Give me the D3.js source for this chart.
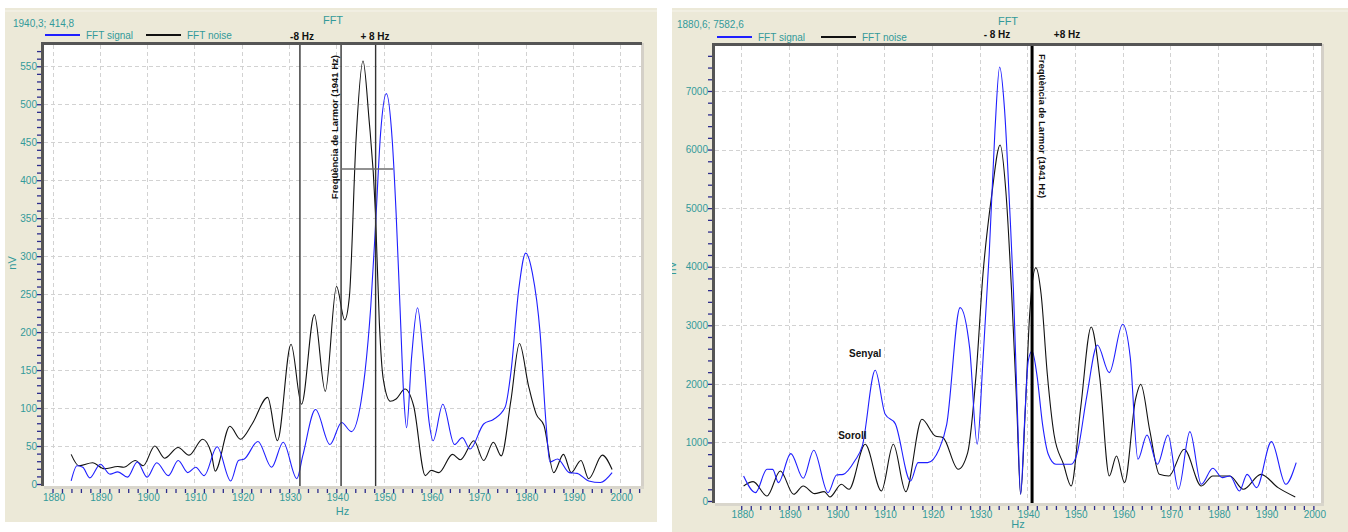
<!DOCTYPE html>
<html><head><meta charset="utf-8">
<script src="https://cdn.jsdelivr.net/npm/d3@7"></script>
<style>
body{margin:0;background:#fff;}
svg{display:block;}
text{font-family:"Liberation Sans",Arial,sans-serif;}
</style>
</head><body>
<svg id="c" width="1348" height="532"></svg>
<script>
// ---------------- DATA ----------------
const xTickLabels = [1880,1890,1900,1910,1920,1930,1940,1950,1960,1970,1980,1990,2000];
const leftYTickLabels = [0,50,100,150,200,250,300,350,400,450,500,550];
const rightYTickLabels = [0,1000,2000,3000,4000,5000,6000,7000];
const seriesNames = ["FFT signal","FFT noise"];
const leftCursorText = "1940,3; 414,8";
const rightCursorText = "1880,6; 7582,6";
const larmorText = "Freqüència de Larmor (1941 Hz)";
const leftMarkerHz = [1932.3, 1941, 1948.3];       // -8 Hz, Larmor, +8 Hz
const leftMarkerLabels = ["-8 Hz", "+ 8 Hz"];
const rightMarkerHz = [1941];
const rightMarkerLabels = ["- 8 Hz", "+8 Hz"];
const leftCursorHz = [1941, 1952];
const leftCursorValue = 414.8;

// left chart (nV)
const leftSignal = [[1883.94,4],[1885.17,24],[1886.40,22],[1887.88,8],[1890.11,26],[1892.16,13],[1893.81,16],[1895.86,9],[1897.92,29],[1899.98,9],[1902.04,28],[1904.50,11],[1906.56,31],[1908.62,15],[1910.26,22],[1912.07,11],[1914.79,49],[1917.67,4],[1919.31,31],[1920.54,33],[1923.43,56],[1926.31,22],[1928.77,55],[1931.65,7],[1932.89,37],[1935.60,98],[1938.65,52],[1941.11,81],[1943.17,69],[1945.23,109],[1946.05,147],[1947.28,234],[1948.27,339],[1949.34,461],[1950.57,514],[1951.81,453],[1952.63,357],[1953.45,234],[1954.28,112],[1954.85,74],[1955.92,168],[1957.16,232],[1958.39,168],[1959.62,81],[1960.45,57],[1962.50,105],[1964.97,52],[1966.62,61],[1968.26,46],[1971.14,79],[1973.20,85],[1975.67,101],[1976.90,147],[1978.55,256],[1980.03,304],[1981.43,278],[1983.07,199],[1984.31,81],[1985.13,29],[1986.77,33],[1989.24,15],[1990.89,14],[1993.35,4],[1995.82,2],[1998.29,15]];
const leftNoise = [[1883.94,39],[1885.58,24],[1888.46,28],[1890.93,20],[1893.81,23],[1895.04,22],[1897.51,31],[1899.16,24],[1901.62,50],[1903.68,34],[1906.56,48],[1908.86,38],[1911.74,59],[1913.55,41],[1914.38,17],[1917.50,76],[1919.72,59],[1922.19,79],[1925.48,114],[1927.54,57],[1930.42,184],[1932.64,105],[1935.35,223],[1937.66,122],[1940.04,260],[1941.77,216],[1942.76,247],[1944.16,453],[1945.64,557],[1946.87,483],[1948.27,357],[1949.09,212],[1949.92,138],[1951.40,109],[1952.63,112],[1954.52,125],[1956.33,103],[1958.80,11],[1960.04,18],[1961.68,15],[1964.56,39],[1966.21,32],[1969.09,57],[1971.14,31],[1973.20,55],[1974.85,37],[1976.90,110],[1978.71,185],[1980.60,130],[1982.25,92],[1983.89,77],[1985.95,15],[1988.01,39],[1989.65,15],[1991.71,31],[1993.35,7],[1996.23,38],[1998.29,19]];

// right chart
const rightSignal = [[1880.5,427],[1883.0,143],[1885.4,541],[1886.6,540],[1887.8,313],[1890.4,809],[1893.0,388],[1895.2,866],[1898.2,143],[1900.0,444],[1901.4,455],[1903.8,683],[1905.4,940],[1908.1,2231],[1910.2,1480],[1912.3,1321],[1915.5,342],[1917.1,655],[1919.1,655],[1921.5,883],[1923.1,1309],[1925.9,3301],[1927.9,2618],[1929.5,968],[1930.7,2400],[1932.0,4200],[1933.2,6300],[1934.2,7410],[1935.2,6716],[1936.3,5008],[1937.1,3586],[1937.9,1594],[1938.6,114],[1939.4,1309],[1940.2,2391],[1941.0,2561],[1942.0,2163],[1943.2,1309],[1944.4,797],[1946.0,627],[1949.2,627],[1950.4,797],[1952.5,1800],[1954.7,2664],[1957.2,2191],[1960.0,3017],[1961.6,2447],[1963.2,712],[1965.1,1127],[1967.3,627],[1969.5,1127],[1971.7,200],[1974.1,1184],[1976.5,285],[1978.9,558],[1980.9,399],[1982.5,427],[1984.5,171],[1986.1,455],[1988.1,228],[1991.2,1013],[1994.2,285],[1996.4,655]];
const rightNoise = [[1880.5,257],[1882.5,330],[1885.4,86],[1888.2,513],[1891.0,114],[1893.0,257],[1895.4,126],[1897.4,160],[1898.6,69],[1901.0,285],[1902.6,200],[1906.0,968],[1909.4,171],[1911.9,968],[1914.5,160],[1917.9,1395],[1920.7,1110],[1922.3,1082],[1925.5,541],[1927.5,826],[1929.3,2200],[1930.7,3870],[1932.5,5200],[1934.3,6078],[1935.5,5293],[1936.7,3586],[1937.8,1594],[1938.6,114],[1939.6,1594],[1940.5,3187],[1941.8,3984],[1942.9,3529],[1944.2,2163],[1945.6,1139],[1947.6,627],[1949.2,257],[1951.2,1594],[1953.4,2971],[1955.2,2106],[1957.2,427],[1958.7,769],[1960.4,313],[1962.7,1736],[1963.8,1992],[1965.7,1196],[1967.7,455],[1969.7,427],[1972.9,883],[1976.5,257],[1978.9,427],[1982.5,427],[1985.3,200],[1989.0,455],[1992.6,228],[1996.2,69]];
const rightAnnotations = [{text:"Senyal", hz:1906.0, v:2450}, {text:"Soroll", hz:1903.3, v:1060}];

// ---------------- DRAW ----------------
const svg = d3.select("#c");
const defs = svg.append("defs");
const TEAL = "#339a9a", TICK = "#2c2c8c", BEIGE = "#ECE9D8";

function drawPanel(cfg){
  const P = cfg.plot;
  defs.append("clipPath").attr("id", cfg.id+"-pc").append("rect")
    .attr("x", cfg.panel[0]).attr("y", cfg.panel[1])
    .attr("width", cfg.panel[2]-cfg.panel[0]).attr("height", cfg.panel[3]-cfg.panel[1]);
  defs.append("clipPath").attr("id", cfg.id+"-plot").append("rect")
    .attr("x", P.l).attr("y", P.t).attr("width", P.r-P.l).attr("height", P.b-P.t+2);
  const g = svg.append("g").attr("clip-path", `url(#${cfg.id}-pc)`);
  g.append("rect").attr("x", cfg.panel[0]).attr("y", cfg.panel[1])
    .attr("width", cfg.panel[2]-cfg.panel[0]).attr("height", cfg.panel[3]-cfg.panel[1])
    .attr("fill", BEIGE);
  g.append("line").attr("x1", cfg.panel[0]).attr("x2", cfg.panel[2])
    .attr("y1", cfg.panel[1]+3).attr("y2", cfg.panel[1]+3).attr("stroke","#f6f4ec").attr("stroke-width",1);

  const x = d3.scaleLinear().domain(cfg.xDomain).range([P.l, P.r]);
  const y = d3.scaleLinear().domain(cfg.yDomain).range([P.b, P.t]);

  // plot background
  g.append("rect").attr("x", P.l).attr("y", P.t).attr("width", P.r-P.l).attr("height", P.b-P.t+2).attr("fill","#fff");

  // grid
  const grid = g.append("g").attr("stroke","#d2d2d2").attr("stroke-dasharray","4,3").attr("stroke-width",1);
  grid.selectAll("line.v").data(xTickLabels).join("line")
    .attr("x1", d=>Math.round(x(d))+0.5).attr("x2", d=>Math.round(x(d))+0.5)
    .attr("y1", P.t).attr("y2", P.b);
  grid.selectAll("line.h").data(cfg.yTicks.filter(d=>d>0)).join("line")
    .attr("x1", P.l).attr("x2", P.r)
    .attr("y1", d=>Math.round(y(d))+0.5).attr("y2", d=>Math.round(y(d))+0.5);

  // curves
  const line = d3.line().x(d=>x(d[0])).y(d=>y(d[1])).curve(d3.curveMonotoneX);
  const cg = g.append("g").attr("clip-path", `url(#${cfg.id}-plot)`);
  cg.append("path").datum(cfg.noise).attr("d", line).attr("fill","none").attr("stroke","#111").attr("stroke-width",1.1);
  cg.append("path").datum(cfg.signal).attr("d", line).attr("fill","none").attr("stroke","#1f1fff").attr("stroke-width",1.1);

  // marker lines
  cg.selectAll("line.mk").data(cfg.markers).join("line")
    .attr("x1", d=>x(d)).attr("x2", d=>x(d)).attr("y1", P.t).attr("y2", P.b+3)
    .attr("stroke", cfg.markerColor).attr("stroke-width", cfg.markerWidth);

  if (cfg.cursor){
    cg.append("line").attr("x1", x(cfg.cursor.hz[0])).attr("x2", x(cfg.cursor.hz[1]))
      .attr("y1", y(cfg.cursor.v)).attr("y2", y(cfg.cursor.v))
      .attr("stroke","#6e6e6e").attr("stroke-width",1.6);
  }

  // Larmor label
  const lx = x(cfg.larmorHz);
  if (cfg.larmorSide === "left"){
    g.append("text").attr("transform", `translate(${lx-3},${P.t+10}) rotate(-90)`)
      .attr("text-anchor","end").attr("font-size","9.5px").attr("font-weight","bold").attr("fill","#111").text(larmorText);
  } else {
    g.append("text").attr("transform", `translate(${lx+7},${P.t+8}) rotate(90)`)
      .attr("text-anchor","start").attr("font-size","9.5px").attr("font-weight","bold").attr("fill","#111").text(larmorText);
  }

  // annotations
  (cfg.annotations||[]).forEach(a=>{
    g.append("text").attr("x", x(a.hz)).attr("y", y(a.v)).attr("text-anchor","middle")
      .attr("font-size","10px").attr("font-weight","bold").attr("fill","#111").text(a.text);
  });

  // borders
  g.append("line").attr("x1", P.r+1.5).attr("x2", P.r+1.5).attr("y1", P.t-2).attr("y2", P.b+5).attr("stroke","#d4d0c8").attr("stroke-width",3);
  g.append("line").attr("x1", P.l).attr("x2", P.r+3).attr("y1", P.b+3.5).attr("y2", P.b+3.5).attr("stroke","#d9d6cc").attr("stroke-width",3);
  g.append("line").attr("x1", P.l-2.5).attr("x2", P.r+1).attr("y1", P.t-1.5).attr("y2", P.t-1.5).attr("stroke","#555").attr("stroke-width",3);
  g.append("line").attr("x1", P.l-1.5).attr("x2", P.l-1.5).attr("y1", P.t-3).attr("y2", P.b+2).attr("stroke","#555").attr("stroke-width",3);

  // y axis
  const yMinor = d3.axisLeft(y).tickValues(cfg.yMinor).tickSize(4).tickFormat("");
  const ya = g.append("g").attr("transform", `translate(${P.l-3},0)`).call(yMinor);
  ya.select(".domain").remove();
  ya.selectAll(".tick line").attr("stroke", TICK).attr("stroke-width",1.3);
  const yMajor = d3.axisLeft(y).tickValues(cfg.yTicks).tickSize(0).tickPadding(cfg.yPad).tickFormat(d3.format("d"));
  const yb = g.append("g").attr("transform", `translate(${P.l-3},0)`).call(yMajor);
  yb.select(".domain").remove();
  yb.selectAll("text").attr("fill", TEAL).attr("font-size","10px").attr("font-family","Liberation Sans, Arial, sans-serif");

  // x axis
  const xMinor = d3.axisBottom(x).tickValues(d3.range(1880, cfg.xDomain[1], 2)).tickSize(4).tickFormat("");
  const xa = g.append("g").attr("transform", `translate(0,${P.b+5})`).call(xMinor);
  xa.select(".domain").remove();
  xa.selectAll(".tick line").attr("stroke", TICK).attr("stroke-width",1.3);
  const xMajor = d3.axisBottom(x).tickValues(xTickLabels).tickSize(0).tickPadding(5).tickFormat(d3.format("d"));
  const xb = g.append("g").attr("transform", `translate(1,${P.b+5})`).call(xMajor);
  xb.select(".domain").remove();
  xb.selectAll("text").attr("fill", TEAL).attr("font-size","10px").attr("font-family","Liberation Sans, Arial, sans-serif");

  // axis titles
  g.append("text").attr("x", (P.l+P.r)/2).attr("y", cfg.hzY).attr("text-anchor","middle")
    .attr("fill", TEAL).attr("font-size","11px").text("Hz");
  g.append("text").attr("transform", `translate(${cfg.nvX},${cfg.nvY}) rotate(-90)`).attr("text-anchor","middle")
    .attr("fill", TEAL).attr("font-size","11px").text("nV");

  // header
  g.append("text").attr("x", cfg.panel[0]+cfg.readoutDx).attr("y", cfg.readoutY).attr("fill", TEAL)
    .attr("font-size","10px").text(cfg.readout);
  g.append("text").attr("x", cfg.titleX).attr("y", cfg.titleY).attr("text-anchor","middle").attr("fill", TEAL)
    .attr("font-family","Liberation Serif, Times New Roman, serif").attr("font-size","11px").text("FFT");
  const L = cfg.legend;
  const colors = ["#1f1fff","#111"];
  seriesNames.forEach((n,i)=>{
    g.append("line").attr("x1", L.x[i]).attr("x2", L.x[i]+35).attr("y1", L.y).attr("y2", L.y)
      .attr("stroke", colors[i]).attr("stroke-width",2);
    g.append("text").attr("x", L.x[i]+41).attr("y", L.y+3.5).attr("fill", TEAL).attr("font-size","10px").text(n);
  });
  cfg.markerLabels.forEach((t,i)=>{
    g.append("text").attr("x", cfg.markerLabelX[i]).attr("y", cfg.markerLabelY).attr("text-anchor","middle")
      .attr("font-size","10px").attr("font-weight","bold").attr("fill","#111").text(t);
  });
}

drawPanel({
  id:"L", panel:[5,8,657,522], plot:{l:44,t:45,r:641,b:484},
  xDomain:[1878.2,2004.4], yDomain:[0,578],
  yTicks:leftYTickLabels, yMinor:d3.range(0,571,10), yPad:4,
  signal:leftSignal, noise:leftNoise,
  markers:leftMarkerHz, markerColor:"#333", markerWidth:1.4,
  cursor:{hz:leftCursorHz, v:leftCursorValue},
  larmorHz:1941, larmorSide:"left",
  nvX:16, nvY:263, hzY:515,
  readout:leftCursorText, readoutDx:8, readoutY:27,
  titleX:333, titleY:24,
  legend:{x:[45,146], y:35},
  markerLabels:leftMarkerLabels, markerLabelX:[302,375], markerLabelY:40
});
drawPanel({
  id:"R", panel:[672,8,1348,532], plot:{l:715,t:46,r:1321,b:501},
  xDomain:[1874.5,2001.6], yDomain:[0,7768],
  yTicks:rightYTickLabels, yMinor:d3.range(0,7601,200), yPad:4,
  signal:rightSignal, noise:rightNoise,
  markers:rightMarkerHz, markerColor:"#000", markerWidth:3,
  cursor:null,
  larmorHz:1941, larmorSide:"right",
  annotations:rightAnnotations,
  nvX:676, nvY:268, hzY:528,
  readout:rightCursorText, readoutDx:5, readoutY:28,
  titleX:1008, titleY:25,
  legend:{x:[717,821], y:37},
  markerLabels:rightMarkerLabels, markerLabelX:[997,1067], markerLabelY:38
});
</script>
</body></html>
